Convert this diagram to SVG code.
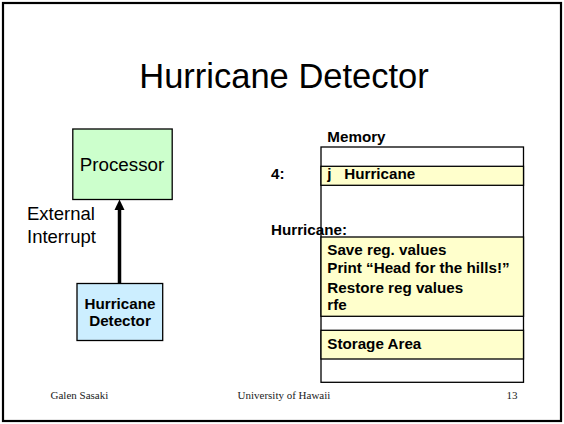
<svg xmlns="http://www.w3.org/2000/svg" width="564" height="424" viewBox="0 0 564 424">
<style>
.sans{font-family:"Liberation Sans",Arial,sans-serif;fill:#000}
.b{font-weight:bold;font-size:15.2px}
.ser{font-family:"Liberation Serif","Times New Roman",serif;font-size:11px;fill:#222}
.box{stroke:#000;stroke-width:1.3}
.mem{fill:#fff;stroke:#000;stroke-width:1.3}
.yel{fill:#ffffcc;stroke:#000;stroke-width:1.3}
</style>
<rect x="0" y="0" width="564" height="424" fill="#fff"/>
<rect x="3" y="3" width="558" height="418" fill="none" stroke="#000" stroke-width="2.2"/>
<text class="sans" x="284" y="88" font-size="34.5" text-anchor="middle">Hurricane Detector</text>

<g id="connectors">
<line x1="119.5" y1="283" x2="119.5" y2="208" stroke="#000" stroke-width="3.5"/>
<polygon points="119.5,199.5 114.5,210 124.5,210" fill="#000"/>
</g>

<g id="processor">
<rect class="box" x="72.8" y="129" width="99.4" height="70.5" fill="#ccffcc"/>
<text class="sans" x="122" y="170.7" font-size="18.8" text-anchor="middle">Processor</text>
</g>

<g id="external-label">
<text class="sans" x="27" y="220" font-size="18.5">External</text>
<text class="sans" x="27" y="243" font-size="18.5">Interrupt</text>
</g>

<g id="hurricane-detector">
<rect class="box" x="77" y="283.5" width="85.7" height="57" fill="#cceeff"/>
<text class="sans b" x="120" y="309" text-anchor="middle" font-size="15.6">Hurricane</text>
<text class="sans b" x="120" y="325.7" text-anchor="middle" font-size="15.6">Detector</text>
</g>

<g id="memory">
<text class="sans b" x="327.3" y="141.7">Memory</text>
<rect class="mem" x="321" y="147" width="202.5" height="235.3"/>
<rect class="yel" x="321" y="166.3" width="202.5" height="19"/>
<rect class="yel" x="321" y="237" width="202.5" height="79.3"/>
<rect class="yel" x="321" y="330.3" width="202.5" height="28.7"/>
<text class="sans b" x="271" y="179.3">4:</text>
<text class="sans b" x="327.3" y="179.3">j</text>
<text class="sans b" x="344.3" y="179.3">Hurricane</text>
<text class="sans b" x="271" y="235">Hurricane:</text>
<text class="sans b" x="327.3" y="255">Save reg. values</text>
<text class="sans b" x="327.3" y="272.5">Print “Head for the hills!”</text>
<text class="sans b" x="327.3" y="292.7">Restore reg values</text>
<text class="sans b" x="327.3" y="310.3">rfe</text>
<text class="sans b" x="327.3" y="348.7">Storage Area</text>
</g>

<g id="footer">
<text class="ser" x="50.5" y="399.3">Galen Sasaki</text>
<text class="ser" x="237.5" y="399.3">University of Hawaii</text>
<text class="ser" x="506.5" y="399.3">13</text>
</g>
</svg>
